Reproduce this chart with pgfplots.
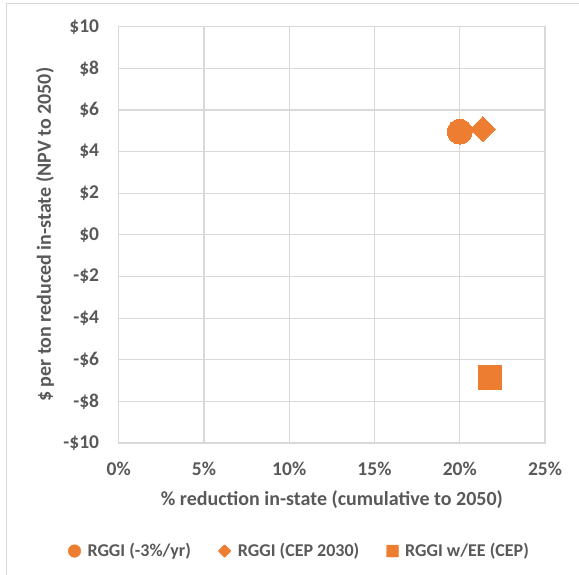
\documentclass[border=0pt]{standalone}
\usepackage{fontspec}
\setmainfont{Carlito}
\usepackage{pgfplots}
\pgfplotsset{compat=1.18}
\definecolor{Corange}{HTML}{ED7D31}
\definecolor{Cgrid}{HTML}{D9D9D9}
\definecolor{Ctext}{HTML}{595959}

\begin{document}
\begin{tikzpicture}
\path[use as bounding box] (0,0) rectangle (579bp,575bp);
% chart frame (only top and left edges are visible)
\draw[Cgrid, line width=1bp] (6.7bp,-5bp) -- (6.7bp,571bp) -- (590bp,571bp);
\begin{axis}[
  at={(118.7bp,132bp)}, anchor=south west,
  scale only axis,
  width=426.3bp, height=416.3bp,
  xmin=0, xmax=25, ymin=-10, ymax=10,
  xtick={0,5,10,15,20,25},
  xticklabels={0\%,5\%,10\%,15\%,20\%,25\%},
  ytick={-10,-8,-6,-4,-2,0,2,4,6,8,10},
  yticklabels={-\$10,-\$8,-\$6,-\$4,-\$2,\$0,\$2,\$4,\$6,\$8,\$10},
  major tick length=0pt,
  grid=major,
  grid style={Cgrid, line width=1.2bp},
  axis line style={Cgrid, line width=1.2bp},
  ticklabel style={font=\fontsize{19.5bp}{22bp}\selectfont\bfseries, text=Ctext, inner sep=0pt},
  xticklabel style={anchor=base, yshift=-32bp},
  yticklabel style={anchor=east, xshift=-19.4bp},
  xlabel={\% reduction in-state (cumulative to 2050)},
  ylabel={\$ per ton reduced in-state (NPV to 2050)},
  label style={font=\fontsize{20bp}{24bp}\selectfont\bfseries, text=Ctext, inner sep=0pt},
  xlabel style={at={(axis description cs:0.5,-0.1513)}, anchor=base},
  ylabel style={at={(axis description cs:-0.1728,0.5)}, anchor=center},
  legend columns=3,
  legend style={
    at={(axis description cs:0.424,-0.2595)}, anchor=center,
    draw=none, fill=none, inner sep=0pt, outer sep=0pt,
    font=\fontsize{18bp}{21bp}\selectfont\bfseries, text=Ctext,
    cells={anchor=west, inner sep=0pt},
    /tikz/every odd column/.append style={column sep=4.5bp},
    /tikz/every even column/.append style={column sep=25bp},
  },
  clip=false,
]
\addplot[only marks, color=Corange, mark=*, mark size=12.5bp, mark options={fill=Corange, draw=Corange, line width=0pt},
  legend image code/.code={\fill[Corange] (0,0) circle (6.3bp);}]
  coordinates {(20.0,4.96)};
\addlegendentry{RGGI (-3\%/yr)}
\addplot[only marks, color=Corange, mark=square*, mark size=8.8bp, mark options={fill=Corange, draw=Corange, line width=0pt, rotate=45, rounded corners=1bp},
  legend image code/.code={\fill[Corange, rotate=45, rounded corners=0.6bp] (-4.6bp,-4.6bp) rectangle (4.6bp,4.6bp);}]
  coordinates {(21.35,5.08)};
\addlegendentry{RGGI (CEP 2030)}
\addplot[only marks, color=Corange, mark=square*, mark size=11.7bp, mark options={fill=Corange, draw=Corange, line width=0pt, rounded corners=2bp},
  legend image code/.code={\fill[Corange, rounded corners=0.8bp] (-6bp,-6bp) rectangle (6bp,6bp);}]
  coordinates {(21.77,-6.85)};
\addlegendentry{RGGI w/EE (CEP)}
\end{axis}
\end{tikzpicture}
\end{document}
